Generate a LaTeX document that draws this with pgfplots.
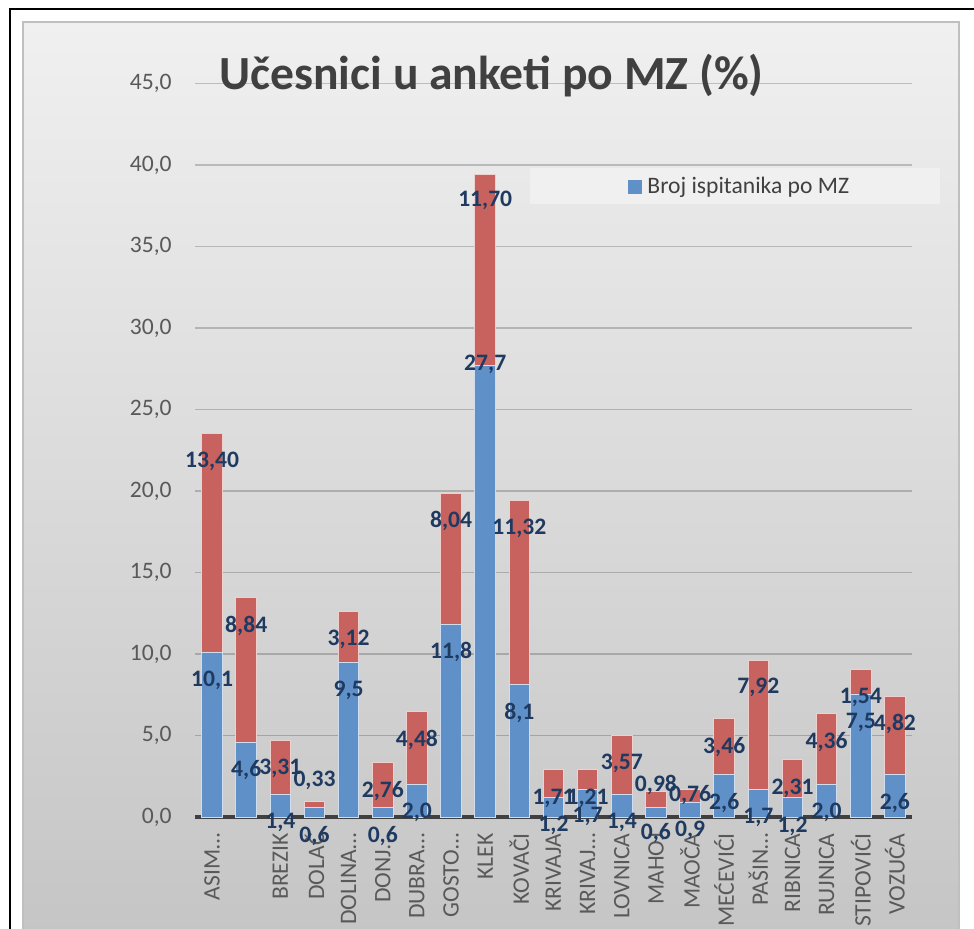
\documentclass[border=0pt]{standalone}
\usepackage{pgfplots}
\pgfplotsset{compat=1.18}
\usepackage{pgfplotstable}
\usepackage{fontspec}
\setmainfont{Carlito}
\definecolor{barblue}{HTML}{6090C8}
\definecolor{barred}{HTML}{C8625E}
\definecolor{lblnavy}{HTML}{1F3A60}
\definecolor{tickgray}{HTML}{595959}
\definecolor{titlegray}{HTML}{404040}
\definecolor{bgtop}{HTML}{F0F0F0}
\definecolor{bgbot}{HTML}{C4C4C4}

% b = blue part, r = red part, bl/rl = label text, bo/ro = label offset (pt)
\pgfplotstableread{
x b r bl rl bo ro
1 10.1 13.40 10,1 13,40 -14.2 -13.6
2 4.6 8.84 4,6 8,84 -14.2 -13.9
3 1.4 3.31 1,4 3,31 -14.2 -13.9
4 0.6 0.33 0,6 0,33 -14.2 10.6
5 9.5 3.12 9,5 3,12 -14.2 -13.9
6 0.6 2.76 0,6 2,76 -14.2 -14.2
7 2.0 4.48 2,0 4,48 -14.2 -14.2
8 11.8 8.04 11,8 8,04 -13.6 -13.7
9 27.7 11.70 27,7 11,70 0.8 -12.6
10 8.1 11.32 8,1 11,32 -14.0 -13.9
11 1.2 1.71 1,2 1,71 -14.2 -14.2
12 1.7 1.21 1,7 1,21 -13.5 -14.2
13 1.4 3.57 1,4 3,57 -14.0 -13.5
14 0.6 0.98 0,6 0,98 -12.8 3.1
15 0.9 0.76 0,9 0,76 -14.0 -2.5
16 2.6 3.46 2,6 3,46 -14.0 -14.2
17 1.7 7.92 1,7 7,92 -14.0 -13.5
18 1.2 2.31 1,2 2,31 -14.5 -14.5
19 2.0 4.36 2,0 4,36 -14.2 -14.2
20 7.5 1.54 7,5 1,54 -14.0 -13.9
21 2.6 4.82 2,6 4,82 -14.0 -14.0
}\datatable

\begin{document}
\begin{tikzpicture}
% panel and frame
\shadedraw[top color=bgtop, bottom color=bgbot, draw=black!25, line width=0.75pt]
  (-86pt,397.5pt) rectangle (382pt,-70pt);
\draw[black, line width=1pt] (-92.5pt,-80pt) -- (-92.5pt,404pt) -- (400pt,404pt);
\fill[white, opacity=0.35] (167.5pt,306.5pt) rectangle (372.5pt,324.5pt);

\begin{axis}[
  at={(0,0)}, anchor=south west,
  scale only axis, width=358.5pt, height=366.75pt,
  xmin=0.5, xmax=21.5, ymin=0, ymax=45, enlargelimits=false,
  ybar stacked, bar width=0.6,
  xtick={1,...,21},
  xticklabels={ASIM…,{},BREZIK,DOLAČ,DOLINA…,DONJ…,DUBRA…,GOSTO…,KLEK,KOVAČI,KRIVAJA,KRIVAJ…,LOVNICA,MAHOJ,MAOČA,MEĆEVIĆI,PAŠIN…,RIBNICA,RUJNICA,STIPOVIĆI,VOZUĆA},
  ytick={0,5,...,45},
  ymajorgrids, grid style={black, opacity=0.2, line width=0.75pt},
  axis x line*=bottom, axis y line*=left,
  x axis line style={color=titlegray, line width=1.75pt, -},
  y axis line style={draw=none},
  tick style={draw=none},
  tick label style={font=\fontsize{11.8}{14}\selectfont, color=tickgray},
  xticklabel style={rotate=90, anchor=east, inner sep=0pt},
  xticklabel shift=8pt,
  yticklabel style={inner sep=0pt},
  yticklabel shift=11.5pt,
  /pgf/number format/fixed, /pgf/number format/fixed zerofill,
  /pgf/number format/precision=1, /pgf/number format/use comma,
  /pgf/number format/assume math mode=true,
  legend style={at={(0.604,0.859)}, anchor=west, draw=none, fill=none,
    inner sep=0pt, font=\fontsize{11.8}{14}\selectfont, text=titlegray,
    nodes={inner sep=2.5pt}},
]
\addplot[fill=barblue, draw=white!70!barblue, line width=0.5pt,
  legend image code/.code={\fill[barblue] (0pt,-3.25pt) rectangle (6.5pt,3.25pt);}]
  table[x=x, y=b]{\datatable};
\addlegendentry{Broj ispitanika po MZ}
\addplot[fill=barred, draw=white!70!barred, line width=0.5pt]
  table[x=x, y=r]{\datatable};
\end{axis}

% value labels on top of everything
\begin{axis}[
  at={(0,0)}, anchor=south west,
  scale only axis, width=358.5pt, height=366.75pt,
  xmin=0.5, xmax=21.5, ymin=0, ymax=45, enlargelimits=false,
  hide axis, clip=false,
]
\addplot[draw=none, mark=none, point meta=explicit symbolic,
  nodes near coords={\pgfplotspointmeta},
  visualization depends on={\thisrow{bo}\as\bo},
  every node near coord/.append style={anchor=center, yshift=\bo,
    font=\bfseries\fontsize{11.8}{14}\selectfont, color=lblnavy}]
  table[x=x, y=b, meta=bl]{\datatable};
\addplot[draw=none, mark=none, point meta=explicit symbolic,
  nodes near coords={\pgfplotspointmeta},
  visualization depends on={\thisrow{ro}\as\ro},
  every node near coord/.append style={anchor=center, yshift=\ro,
    font=\bfseries\fontsize{11.8}{14}\selectfont, color=lblnavy}]
  table[x=x, y expr=\thisrow{b}+\thisrow{r}, meta=rl]{\datatable};
\end{axis}

\node[anchor=base, font=\bfseries\fontsize{23.8}{28}\selectfont, text=titlegray]
  at (148.25pt,363.5pt) {Učesnici u anketi po MZ (\%)};

\pgfresetboundingbox
\useasboundingbox (-97.5pt,-55.5pt) rectangle (389.5pt,408.5pt);
\end{tikzpicture}
\end{document}
